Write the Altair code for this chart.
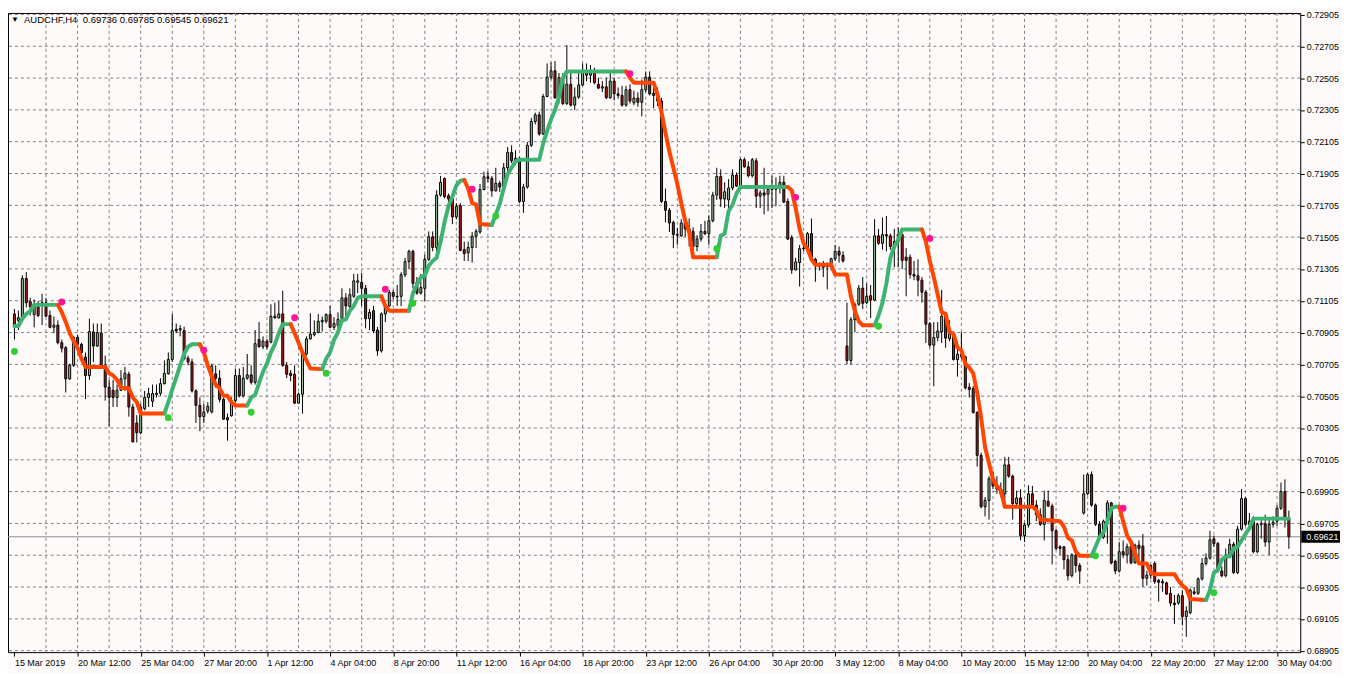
import json
import altair as alt
import pandas as pd

# ---------------- data (prices in points, 1 point = 0.00001) ----------------
open_pts = [
    71022, 70982, 70998, 71245, 71099, 71018, 71067, 71079, 71093, 71012,
    70938, 70952, 70841, 70810, 70614, 70699, 70875, 70831, 70750, 70635,
    70909, 70820, 70901, 70699, 70562, 70542, 70497, 70542, 70614, 70643,
    70437, 70336, 70275, 70427, 70497, 70473, 70515, 70523, 70584, 70647,
    70736, 70925, 70921, 70917, 70744, 70720, 70538, 70447, 70376, 70412,
    70406, 70645, 70618, 70485, 70370, 70382, 70477, 70635, 70507, 70618,
    70639, 70592, 70861, 70816, 70851, 70845, 71008, 70998, 71022, 70699,
    70649, 70643, 70461, 70517, 70770, 70865, 70891, 70905, 70972, 70976,
    71018, 70938, 70951, 70992, 71123, 71068, 71133, 71222, 71220, 71183,
    70992, 71042, 70921, 70790, 71022, 71072, 71157, 71129, 71133, 71268,
    71351, 71416, 71220, 71153, 71183, 71365, 71507, 71440, 71769, 71874,
    71765, 71745, 71632, 71703, 71426, 71406, 71440, 71511, 71537, 71804,
    71884, 71874, 71796, 71844, 71820, 71941, 72038, 71985, 72001, 71729,
    71820, 72082, 72232, 72274, 72153, 72389, 72511, 72551, 72381, 72507,
    72345, 72466, 72335, 72385, 72462, 72547, 72523, 72537, 72466, 72442,
    72450, 72381, 72486, 72406, 72396, 72335, 72432, 72349, 72379, 72353,
    72432, 72511, 72410, 72396, 72360, 71729, 71674, 71598, 71521, 71513,
    71594, 71557, 71541, 71446, 71493, 71541, 71527, 71608, 71769, 71886,
    71745, 71739, 71814, 71895, 71826, 71992, 71947, 71891, 71985, 71763,
    71783, 71775, 71804, 71806, 71816, 71850, 71729, 71501, 71299, 71345,
    71432, 71436, 71527, 71365, 71335, 71325, 71331, 71319, 71369, 71416,
    71390, 70820, 70729, 70986, 71083, 71184, 71093, 71137, 71109, 71513,
    71466, 71521, 71513, 71446, 71477, 71521, 71379, 71379, 71270, 71262,
    71234, 71159, 70961, 70826, 70874, 70911, 71008, 70866, 70897, 70735,
    70769, 70753, 70561, 70553, 70402, 70133, 69810, 69850, 69992, 69941,
    69921, 69891, 70073, 70002, 69830, 69865, 69628, 69695, 69891, 69820,
    69760, 69699, 69844, 69814, 69659, 69558, 69558, 69477, 69376, 69507,
    69440, 69770, 69891, 70012, 69820, 69699, 69618, 69719, 69834, 69467,
    69406, 69527, 69507, 69562, 69457, 69568, 69562, 69360, 69380, 69453,
    69346, 69339, 69331, 69265, 69204, 69204, 69251, 69119, 69144, 69275,
    69265, 69356, 69453, 69487, 69608, 69578, 69406, 69376, 69507, 69574,
    69396, 69669, 69861, 69699, 69719, 69527, 69699, 69703, 69588, 69699,
    69719, 69800, 69905, 69736,
]
high_pts = [
    71053, 71043, 71265, 71285, 71123, 71113, 71103, 71148, 71123, 71043,
    71006, 70982, 70861, 70820, 70709, 70881, 70891, 70841, 70780, 70992,
    70962, 70962, 70962, 70760, 70608, 70608, 70578, 70669, 70689, 70659,
    70457, 70386, 70457, 70538, 70558, 70578, 70578, 70618, 70730, 70780,
    71022, 70962, 70952, 70942, 70760, 70740, 70548, 70497, 70457, 70467,
    70709, 70699, 70669, 70497, 70396, 70497, 70679, 70679, 70689, 70770,
    70699, 70921, 70972, 70881, 70865, 71083, 71093, 71103, 71168, 70720,
    70669, 70699, 70528, 70780, 70881, 71026, 70982, 71022, 71006, 71026,
    71073, 71002, 71032, 71183, 71153, 71183, 71274, 71274, 71280, 71204,
    71052, 71072, 70941, 71032, 71093, 71173, 71173, 71204, 71284, 71375,
    71426, 71426, 71254, 71274, 71396, 71541, 71541, 71800, 71890, 71880,
    71779, 71779, 71719, 71719, 71476, 71476, 71537, 71557, 71840, 71917,
    71921, 71890, 71941, 71859, 71971, 72072, 72082, 72052, 72010, 71840,
    72103, 72254, 72288, 72294, 72406, 72597, 72604, 72612, 72537, 72537,
    72713, 72547, 72446, 72547, 72597, 72597, 72587, 72571, 72507, 72486,
    72507, 72537, 72507, 72446, 72456, 72456, 72466, 72426, 72416, 72496,
    72547, 72547, 72446, 72446, 72380, 71810, 71688, 71608, 71563, 71618,
    71608, 71622, 71567, 71517, 71588, 71608, 71642, 71790, 71941, 71931,
    71850, 71870, 71931, 71911, 72002, 72006, 71981, 72002, 72002, 71800,
    71941, 71820, 71891, 71880, 71891, 71891, 71749, 71517, 71375, 71456,
    71497, 71537, 71622, 71375, 71345, 71355, 71345, 71375, 71456, 71446,
    71416, 71093, 71002, 71093, 71204, 71254, 71214, 71204, 71618, 71557,
    71628, 71638, 71527, 71557, 71567, 71557, 71436, 71396, 71355, 71365,
    71254, 71173, 70971, 70971, 70971, 71173, 71022, 70982, 70911, 70850,
    70907, 70760, 70587, 70567, 70410, 70150, 69871, 70002, 70032, 70002,
    69962, 70123, 70123, 70012, 69911, 69921, 69709, 69945, 69941, 69850,
    69800, 69911, 69911, 69830, 69669, 69568, 69562, 69507, 69517, 69517,
    69456, 70012, 70022, 70032, 69830, 69719, 69729, 69850, 69840, 69477,
    69588, 69598, 69578, 69568, 69578, 69598, 69638, 69406, 69447, 69467,
    69356, 69356, 69339, 69305, 69255, 69265, 69285, 69184, 69295, 69305,
    69366, 69487, 69517, 69659, 69628, 69588, 69436, 69547, 69608, 69588,
    69689, 69921, 69871, 69770, 69749, 69709, 69729, 69760, 69739, 69749,
    69820, 69962, 69982, 69785,
]
low_pts = [
    70861, 70921, 70982, 71063, 71012, 70938, 71002, 70952, 71002, 70932,
    70901, 70831, 70780, 70528, 70608, 70689, 70780, 70740, 70487, 70608,
    70720, 70816, 70679, 70477, 70315, 70437, 70437, 70538, 70538, 70376,
    70214, 70214, 70265, 70416, 70437, 70437, 70497, 70507, 70578, 70639,
    70720, 70901, 70881, 70730, 70699, 70528, 70336, 70285, 70336, 70396,
    70396, 70558, 70467, 70356, 70225, 70376, 70467, 70497, 70497, 70608,
    70578, 70578, 70810, 70800, 70800, 70837, 70992, 70992, 70689, 70618,
    70598, 70457, 70457, 70396, 70760, 70861, 70881, 70901, 70911, 70962,
    70932, 70921, 70911, 70981, 70992, 71062, 71123, 71153, 71072, 70931,
    70921, 70901, 70759, 70779, 70971, 71068, 71113, 71072, 71072, 71254,
    71305, 71183, 71143, 71143, 71103, 71355, 71416, 71416, 71759, 71749,
    71678, 71587, 71617, 71416, 71355, 71355, 71345, 71436, 71527, 71800,
    71850, 71759, 71792, 71789, 71815, 71921, 71971, 71961, 71719, 71658,
    71810, 72072, 72214, 72143, 72147, 72385, 72496, 72375, 72345, 72335,
    72335, 72325, 72305, 72375, 72456, 72486, 72476, 72466, 72436, 72416,
    72375, 72375, 72365, 72375, 72325, 72325, 72345, 72335, 72325, 72264,
    72416, 72396, 72315, 72330, 71719, 71598, 71537, 71436, 71456, 71507,
    71507, 71446, 71375, 71416, 71477, 71517, 71456, 71598, 71739, 71695,
    71688, 71678, 71800, 71820, 71800, 71941, 71880, 71880, 71688, 71688,
    71648, 71668, 71688, 71699, 71779, 71719, 71487, 71274, 71295, 71194,
    71416, 71416, 71355, 71224, 71295, 71254, 71177, 71295, 71355, 71345,
    71345, 70705, 70705, 70907, 71072, 71052, 71083, 70996, 71103, 71456,
    71426, 71416, 71426, 71315, 71315, 71305, 71133, 71244, 71234, 71133,
    71093, 70840, 70810, 70567, 70850, 70840, 70810, 70850, 70729, 70628,
    70739, 70547, 70497, 70396, 70062, 69800, 69749, 69729, 69921, 69891,
    69871, 69810, 69992, 69729, 69820, 69598, 69588, 69679, 69810, 69719,
    69689, 69598, 69810, 69447, 69537, 69507, 69416, 69346, 69366, 69396,
    69325, 69760, 69881, 69810, 69689, 69608, 69608, 69578, 69447, 69386,
    69396, 69487, 69453, 69447, 69453, 69447, 69305, 69315, 69356, 69325,
    69214, 69275, 69255, 69184, 69073, 69194, 69063, 68992, 69133, 69255,
    69255, 69346, 69440, 69477, 69558, 69396, 69366, 69366, 69497, 69386,
    69386, 69659, 69689, 69669, 69517, 69517, 69608, 69558, 69507, 69679,
    69689, 69790, 69679, 69545,
]
close_pts = [
    70942, 70998, 71245, 71093, 71067, 71083, 71012, 71093, 71008, 70938,
    70952, 70841, 70806, 70614, 70699, 70875, 70831, 70780, 70635, 70911,
    70820, 70905, 70689, 70562, 70497, 70497, 70542, 70614, 70649, 70437,
    70218, 70275, 70437, 70497, 70521, 70521, 70523, 70584, 70649, 70736,
    70917, 70915, 70930, 70740, 70720, 70538, 70447, 70376, 70406, 70441,
    70695, 70618, 70485, 70360, 70356, 70477, 70635, 70507, 70618, 70639,
    70592, 70835, 70816, 70851, 70816, 71006, 70998, 71022, 70699, 70643,
    70635, 70461, 70517, 70770, 70865, 70895, 70905, 70976, 70982, 71018,
    70938, 70962, 70988, 71123, 71072, 71143, 71230, 71230, 71183, 70992,
    71032, 70915, 70790, 71022, 71072, 71157, 71133, 71133, 71268, 71351,
    71416, 71214, 71153, 71188, 71365, 71507, 71440, 71769, 71850, 71759,
    71745, 71632, 71699, 71422, 71402, 71440, 71511, 71541, 71804, 71884,
    71874, 71796, 71844, 71820, 71941, 72038, 71985, 72001, 71729, 71820,
    72082, 72232, 72274, 72153, 72389, 72511, 72551, 72381, 72507, 72345,
    72466, 72335, 72385, 72462, 72547, 72523, 72537, 72476, 72442, 72450,
    72381, 72486, 72406, 72396, 72335, 72432, 72361, 72379, 72353, 72432,
    72511, 72406, 72396, 72360, 71729, 71674, 71594, 71521, 71517, 71594,
    71557, 71541, 71446, 71493, 71541, 71527, 71608, 71769, 71886, 71745,
    71790, 71814, 71895, 71826, 71992, 71947, 71891, 71992, 71763, 71783,
    71769, 71804, 71810, 71816, 71850, 71725, 71493, 71299, 71349, 71432,
    71436, 71527, 71359, 71335, 71325, 71315, 71319, 71369, 71416, 71392,
    71355, 70729, 70986, 71083, 71184, 71089, 71133, 71109, 71513, 71466,
    71521, 71513, 71446, 71477, 71521, 71359, 71359, 71270, 71260, 71234,
    71159, 70957, 70826, 70874, 70915, 71008, 70870, 70897, 70735, 70769,
    70753, 70557, 70547, 70402, 70133, 69810, 69850, 69986, 69941, 69921,
    69891, 70073, 70002, 69830, 69865, 69628, 69695, 69891, 69820, 69760,
    69699, 69850, 69814, 69659, 69548, 69548, 69477, 69376, 69507, 69440,
    69406, 69891, 70012, 69820, 69699, 69618, 69719, 69834, 69457, 69406,
    69527, 69507, 69558, 69457, 69568, 69548, 69360, 69380, 69440, 69339,
    69335, 69331, 69261, 69204, 69194, 69251, 69119, 69154, 69285, 69265,
    69356, 69453, 69487, 69602, 69578, 69406, 69376, 69507, 69574, 69396,
    69669, 69861, 69699, 69719, 69527, 69699, 69703, 69588, 69699, 69713,
    69800, 69905, 69739, 69621,
]

# trailing-stop indicator: vertices (bar, value), split into coloured segments
trail_bar = [
    0, 1, 2, 3, 4, 5, 11,
    11, 12, 13, 14, 15, 16, 17, 18, 23, 24, 25, 26, 27, 29, 30, 31, 32, 38,
    38, 39, 40, 41, 42, 43, 44, 45, 47,
    47, 48, 49, 50, 51, 52, 53, 54, 55, 56, 59,
    59, 60, 61, 62, 63, 64, 65, 66, 67, 68, 70,
    70, 71, 72, 73, 74, 75, 78,
    78, 79, 80, 81, 82, 83, 84, 85, 86, 87, 88, 93,
    93, 94, 95, 100,
    100, 101, 102, 103, 104, 105, 106, 107, 108, 109, 110, 111, 112, 113, 114,
    114, 115, 116, 117, 118, 121,
    121, 122, 123, 124, 125, 126, 127, 128, 133, 134, 135, 136, 137, 138, 139, 140, 155,
    155, 156, 157, 162, 163, 164, 165, 166, 167, 168, 169, 170, 171, 172, 178,
    178, 179, 180, 181, 182, 183, 184, 196,
    196, 197, 198, 199, 200, 201, 202, 203, 207, 208, 211, 212, 213, 214, 215, 218,
    218, 219, 220, 221, 222, 223, 224, 225, 230,
    230, 231, 232, 233, 234, 235, 236, 237, 238, 239, 240, 241, 242, 243, 244, 245,
    246, 247, 248, 249, 250, 251, 258, 259, 260, 265, 266, 267, 268, 269, 270, 273,
    273, 274, 275, 276, 277, 278, 279, 280,
    280, 281, 282, 283, 284, 285, 287, 288, 289, 294, 295, 296, 297, 298, 302,
    302, 303, 304, 305, 306, 307, 308, 309, 310, 311, 312, 313, 314, 323,
]
trail_pts = [
    70946, 70946, 70992, 71022, 71039, 71079, 71079,
    71079, 71033, 70972, 70901, 70851, 70810, 70740, 70689, 70689, 70649, 70635, 70608, 70558, 70554, 70497, 70467, 70396, 70396,
    70396, 70467, 70548, 70622, 70699, 70770, 70816, 70831, 70831,
    70831, 70780, 70699, 70629, 70578, 70554, 70507, 70507, 70467, 70447, 70447,
    70447, 70497, 70513, 70588, 70659, 70709, 70780, 70831, 70901, 70958, 70958,
    70958, 70901, 70841, 70780, 70730, 70679, 70675,
    70675, 70740, 70780, 70860, 70907, 70981, 70988, 71042, 71072, 71123, 71133, 71133,
    71133, 71072, 71042, 71042,
    71042, 71153, 71204, 71254, 71264, 71325, 71355, 71375, 71476, 71598, 71699, 71759, 71830, 71860, 71864,
    71864, 71810, 71719, 71709, 71587, 71581,
    71581, 71648, 71715, 71810, 71901, 71941, 71981, 71992, 71992, 72093, 72173, 72244, 72305, 72385, 72507, 72547, 72547,
    72547, 72507, 72476, 72476, 72400, 72290, 72160, 72042, 71941, 71840, 71719, 71608, 71537, 71379, 71379,
    71379, 71513, 71527, 71668, 71709, 71779, 71820, 71820,
    71820, 71800, 71688, 71557, 71466, 71432, 71365, 71331, 71331, 71270, 71270, 71133, 71042, 70975, 70951, 70951,
    70951, 71012, 71093, 71214, 71375, 71446, 71487, 71553, 71553,
    71553, 71477, 71355, 71254, 71143, 71032, 71022, 70911, 70895, 70810, 70794, 70709, 70685, 70648, 70527, 70370,
    70184, 70083, 69982, 69941, 69911, 69810, 69810, 69790, 69729, 69719, 69683, 69614, 69598, 69527, 69501, 69501,
    69501, 69558, 69618, 69648, 69719, 69800, 69810, 69810,
    69810, 69719, 69628, 69588, 69517, 69453, 69453, 69396, 69386, 69386, 69346, 69315, 69295, 69230, 69224,
    69224, 69285, 69396, 69412, 69477, 69497, 69497, 69548, 69558, 69598, 69638, 69675, 69735, 69735,
]
trail_seg_len = [7, 18, 9, 11, 11, 7, 12, 4, 15, 6, 17, 15, 8, 16, 9, 32, 8, 15, 14]
trail_seg_dir = ["up", "down", "up", "down", "up", "down", "up", "down", "up", "down",
                 "up", "down", "up", "down", "up", "down", "up", "down", "up"]

# trend-change markers
sell_bar = [12, 48, 71, 94, 116, 156, 198, 232, 281]
sell_pts = [71097, 70794, 70998, 71177, 71806, 72533, 71755, 71497, 69800]
buy_bar = [0, 39, 60, 79, 101, 122, 178, 219, 274, 304]
buy_pts = [70786, 70370, 70404, 70649, 71089, 71638, 71432, 70945, 69501, 69269]

# axes
price_levels = [0.68905, 0.69105, 0.69305, 0.69505, 0.69705, 0.69905, 0.70105,
                0.70305, 0.70505, 0.70705, 0.70905, 0.71105, 0.71305, 0.71505,
                0.71705, 0.71905, 0.72105, 0.72305, 0.72505, 0.72705, 0.72905]
grid_bars = [8, 16, 24, 32, 40, 48, 56, 64, 72, 80, 88, 96, 104, 112, 120, 128,
             136, 144, 152, 160, 168, 176, 184, 192, 200, 208, 216, 224, 232, 240,
             248, 256, 264, 272, 280, 288, 296, 304, 312, 320]
date_bars = [0, 16, 32, 48, 64, 80, 96, 112, 128, 144, 160, 176, 192, 208, 224,
             240, 256, 272, 288, 304, 320]
date_labels = ["15 Mar 2019", "20 Mar 12:00", "25 Mar 04:00", "27 Mar 20:00",
               "1 Apr 12:00", "4 Apr 04:00", "8 Apr 20:00", "11 Apr 12:00",
               "16 Apr 04:00", "18 Apr 20:00", "23 Apr 12:00", "26 Apr 04:00",
               "30 Apr 20:00", "3 May 12:00", "8 May 04:00", "10 May 20:00",
               "15 May 12:00", "20 May 04:00", "22 May 20:00", "27 May 12:00",
               "30 May 04:00"]
header_text = "AUDCHF,H4\u00a0\u00a00.69736 0.69785 0.69545 0.69621"
last_price = 0.69621
last_label = "0.69621"

N = len(close_pts)
assert len(open_pts) == N and len(high_pts) == N and len(low_pts) == N == 324
assert len(trail_bar) == len(trail_pts) == sum(trail_seg_len)

# ---------------- styling ----------------
W, H = 1300, 643
BG = "#FFFAFA"
GRID = "#808080"
BULL = "#9DC39D"
BEAR = "#B01E1E"
UP = "#3CB371"
DOWN = "#FF4500"
FONT = "Liberation Sans"

xs = alt.Scale(domain=[-0.375, 324.625], nice=False, zero=False)
ys = alt.Scale(domain=[0.6889563, 0.7291438], nice=False, zero=False)

label_expr = f"{json.dumps(date_labels)}[indexof({json.dumps(date_bars)}, datum.value)]"
x_axis = alt.Axis(values=date_bars, labelExpr=label_expr, title=None, grid=False,
                  domain=False, ticks=True, tickColor="black", tickSize=4, tickWidth=1,
                  labelAlign="left", labelFont=FONT, labelFontSize=9, labelColor="black",
                  labelPadding=2, labelFlush=False, labelOverlap=False)
y_axis = alt.Axis(orient="right", values=price_levels, format=".5f", title=None,
                  grid=False, domain=False, ticks=True, tickColor="black", tickSize=4,
                  tickWidth=1, labelFont=FONT, labelFontSize=9, labelColor="black",
                  labelPadding=2, labelFlush=False, labelOverlap=False,
                  labelBaseline="middle")


def X(field):
    return alt.X(field, type="quantitative", scale=xs, axis=x_axis)


def Y(field):
    return alt.Y(field, type="quantitative", scale=ys, axis=y_axis)


# ---------------- tables ----------------
candles = pd.DataFrame({
    "bar": list(range(N)),
    "open": [v / 1e5 for v in open_pts],
    "high": [v / 1e5 for v in high_pts],
    "low": [v / 1e5 for v in low_pts],
    "close": [v / 1e5 for v in close_pts],
    "kind": ["bull" if c >= o else "bear" for o, c in zip(open_pts, close_pts)],
})

seg_ids, seg_dirs = [], []
for s, (n, d) in enumerate(zip(trail_seg_len, trail_seg_dir)):
    seg_ids += [s] * n
    seg_dirs += [d] * n
trail = pd.DataFrame({
    "bar": trail_bar,
    "val": [v / 1e5 for v in trail_pts],
    "seg": seg_ids,
    "dir": seg_dirs,
    "k": list(range(len(trail_bar))),
})
sells = pd.DataFrame({"bar": sell_bar, "val": [v / 1e5 for v in sell_pts]})
buys = pd.DataFrame({"bar": buy_bar, "val": [v / 1e5 for v in buy_pts]})
levels = pd.DataFrame({"level": price_levels})
vgrid = pd.DataFrame({"bar": grid_bars})
last = pd.DataFrame({"p": [last_price], "label": [last_label]})
header = pd.DataFrame({"t": [header_text]})

# ---------------- layers ----------------
hgrid_layer = alt.Chart(levels).mark_rule(color=GRID, strokeWidth=1, strokeDash=[3, 3]).encode(
    y=Y("level"))
vgrid_layer = alt.Chart(vgrid).mark_rule(color=GRID, strokeWidth=1, strokeDash=[3, 3]).encode(
    x=X("bar"))
last_line = alt.Chart(last).mark_rule(color="#8C8C8C", strokeWidth=1).encode(y=Y("p"))

wicks = alt.Chart(candles).mark_rule(color="black", strokeWidth=1).encode(
    x=X("bar"), y=Y("low"), y2="high")
bodies = alt.Chart(candles).mark_bar(width=2, stroke="black", strokeWidth=1).encode(
    x=X("bar"), y=Y("open"), y2="close",
    fill=alt.Fill("kind:N", scale=alt.Scale(domain=["bull", "bear"], range=[BULL, BEAR]),
                  legend=None))

trail_layer = alt.Chart(trail).mark_line(strokeWidth=4, strokeCap="round",
                                         strokeJoin="round").encode(
    x=X("bar"), y=Y("val"),
    stroke=alt.Stroke("dir:N", scale=alt.Scale(domain=["up", "down"], range=[UP, DOWN]),
                      legend=None),
    detail="seg:N", order="k:Q")

sell_dots = alt.Chart(sells).mark_circle(size=48, opacity=1, color="#FF1493", clip=True).encode(
    x=X("bar"), y=Y("val"))
buy_dots = alt.Chart(buys).mark_circle(size=48, opacity=1, color="#32CD32", clip=True).encode(
    x=X("bar"), y=Y("val"))

tri = alt.Chart(header).mark_text(text="\u25BC", font=FONT, fontSize=8, color="black",
                                  align="left", baseline="middle").encode(
    x=alt.value(3), y=alt.value(7))
head = alt.Chart(header).mark_text(font=FONT, fontSize=9.6, color="black", align="left",
                                   baseline="middle").encode(
    x=alt.value(16), y=alt.value(7), text="t:N")

price_box = alt.Chart(last).mark_rule(color="black", strokeWidth=12, strokeCap="butt").encode(
    y=Y("p"), x=alt.value(W + 1), x2=alt.value(W + 40))
price_txt = alt.Chart(last).mark_text(font=FONT, fontSize=9, color="white", align="left",
                                      baseline="middle").encode(
    x=alt.value(W + 6), y=Y("p"), text="label:N")

chart = alt.layer(
    hgrid_layer, vgrid_layer, last_line, wicks, bodies, trail_layer,
    sell_dots, buy_dots, tri, head, price_box, price_txt,
).properties(
    width=W, height=H,
    padding={"left": 0, "top": 3, "right": 42, "bottom": 20},
    autosize=alt.AutoSizeParams(type="none"),
).configure(background=BG).configure_view(stroke="black", strokeWidth=1, fill=BG)

chart.save("out.html", embed_options={"renderer": "svg", "actions": False})
